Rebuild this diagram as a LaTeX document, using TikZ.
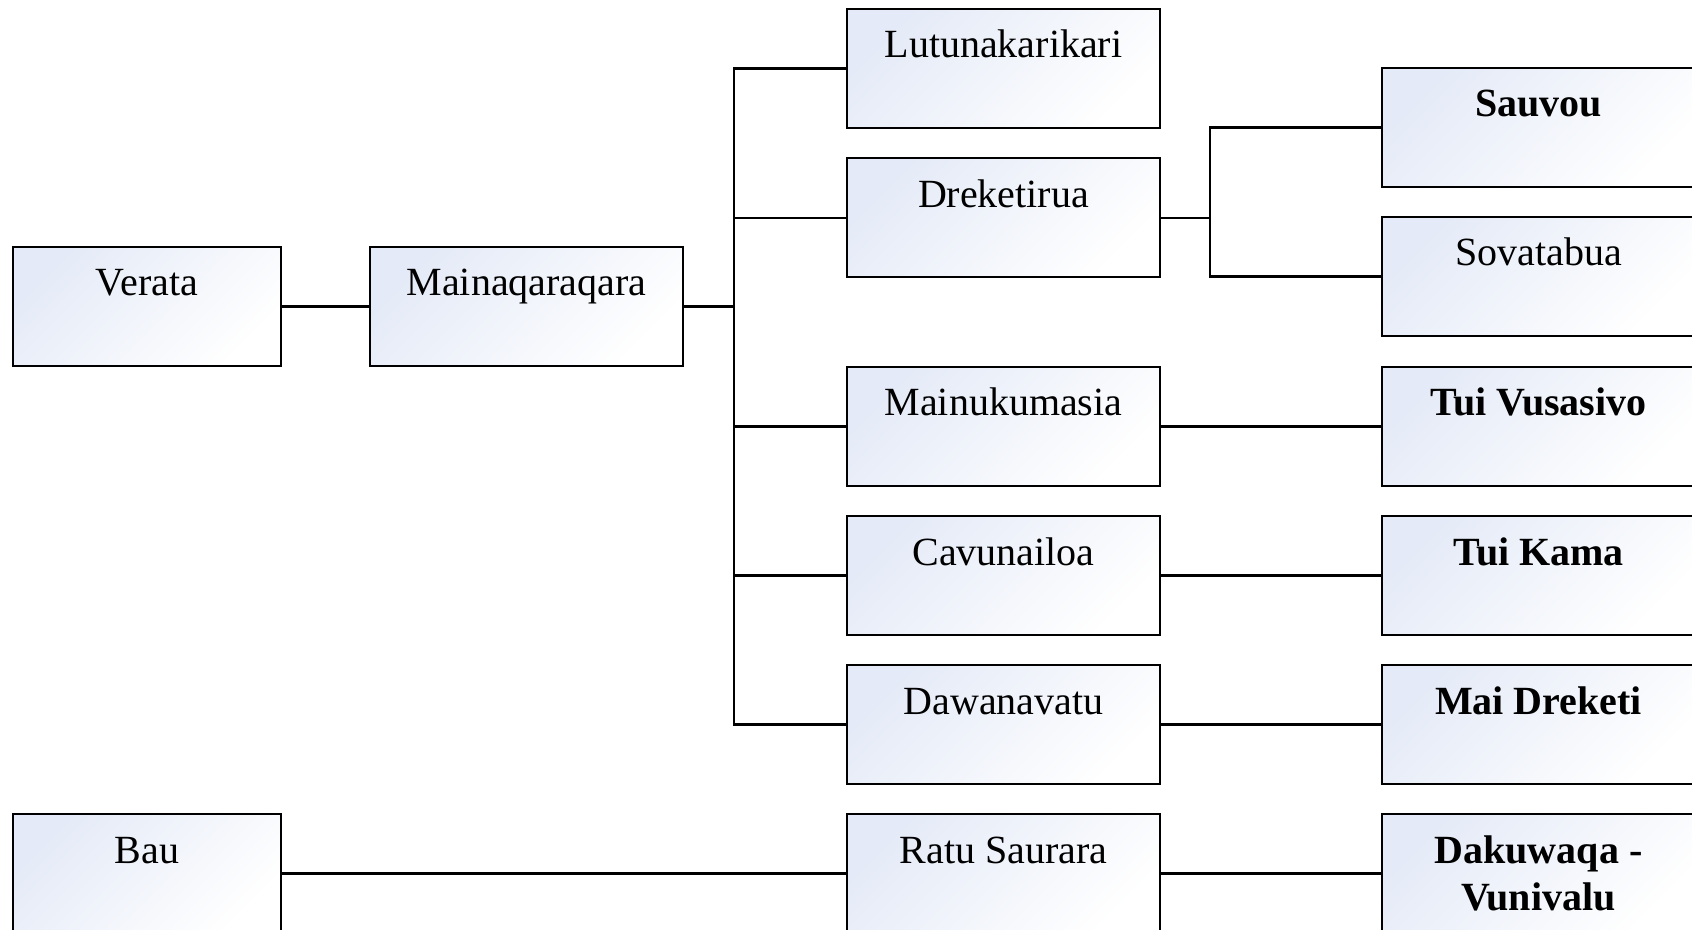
\documentclass[tikz,border=0pt]{standalone}
\usepackage{fontspec}
\setmainfont{Liberation Serif}
\definecolor{boxtint}{RGB}{228,234,247}
\begin{document}
\begin{tikzpicture}[x=0.5pt,y=-0.5pt,
		box_style/.style={rectangle,draw=black,line width=1pt,anchor=north west,
			top color=boxtint,bottom color=white,shading angle=45,
			inner sep=0pt,text height=24.5pt,text depth=35pt,align=center,
			font=\fontsize{20pt}{23.5pt}\selectfont},
		box_short/.style={box_style,minimum width=134pt},
		box_wide/.style={box_style,minimum width=156.5pt},
		box_bold/.style={box_wide,font=\fontsize{20pt}{23.5pt}\selectfont\bfseries},
		edge_style/.style={draw=black,line width=1.3pt}]
		
		\useasboundingbox (0,0) rectangle (1692,930);
		\clip (0,0) rectangle (1692,930);
		
		\node[box_short] (verata) at (12,246)  {Verata};
		\node[box_wide] (maina) at (369,246)  {Mainaqaraqara};
		\node[box_short] (bau) at (12,813)  {Bau};
		
		\node[box_wide] (lutu) at (846,8)  {Lutunakarikari};
		\node[box_wide] (drek) at (846,157.5)  {Dreketirua};
		\node[box_wide] (mainu) at (846,366)  {Mainukumasia};
		\node[box_wide] (cavu) at (846,515)  {Cavunailoa};
		\node[box_wide] (dawana) at (846,664)  {Dawanavatu};
		\node[box_wide] (ratu) at (846,813)  {Ratu Saurara};
		
		\node[box_bold] (sauvou) at (1381,67)  {Sauvou};
		\node[box_wide] (sovata) at (1381,216)  {Sovatabua};
		\node[box_bold] (vusasivo) at (1381,366)  {Tui Vusasivo};
		\node[box_bold] (kama) at (1381,515)  {Tui Kama};
		\node[box_bold] (maidrek) at (1381,664)  {Mai Dreketi};
		\node[box_bold,text height=48pt,text depth=11.5pt] (dakuwaqa) at (1381,813)  {Dakuwaqa -\\Vunivalu};
		
		% vertical bus lines
		\coordinate (bus) at (734,0);
		\coordinate (drekbus) at (1210,0);
		
		\draw[edge_style]  (verata.east) -- (maina.west);
		\draw[edge_style]  (maina.east) -- (maina.east -| bus);
		\draw[edge_style]  (lutu.west) -| (bus |- dawana.west) -- (dawana.west);
		\draw[edge_style]  (bus |- drek.west) -- (drek.west);
		\draw[edge_style]  (bus |- mainu.west) -- (mainu.west);
		\draw[edge_style]  (bus |- cavu.west) -- (cavu.west);
		
		\draw[edge_style]  (drek.east) -- (drek.east -| drekbus);
		\draw[edge_style]  (sauvou.west) -| (drekbus |- sovata.west) -- (sovata.west);
		\draw[edge_style]  (mainu.east) -- (vusasivo.west);
		\draw[edge_style]  (cavu.east) -- (kama.west);
		\draw[edge_style]  (dawana.east) -- (maidrek.west);
		
		\draw[edge_style]  (bau.east) -- (ratu.west);
		\draw[edge_style]  (ratu.east) -- (dakuwaqa.west);

		\end{tikzpicture}
\end{document}
